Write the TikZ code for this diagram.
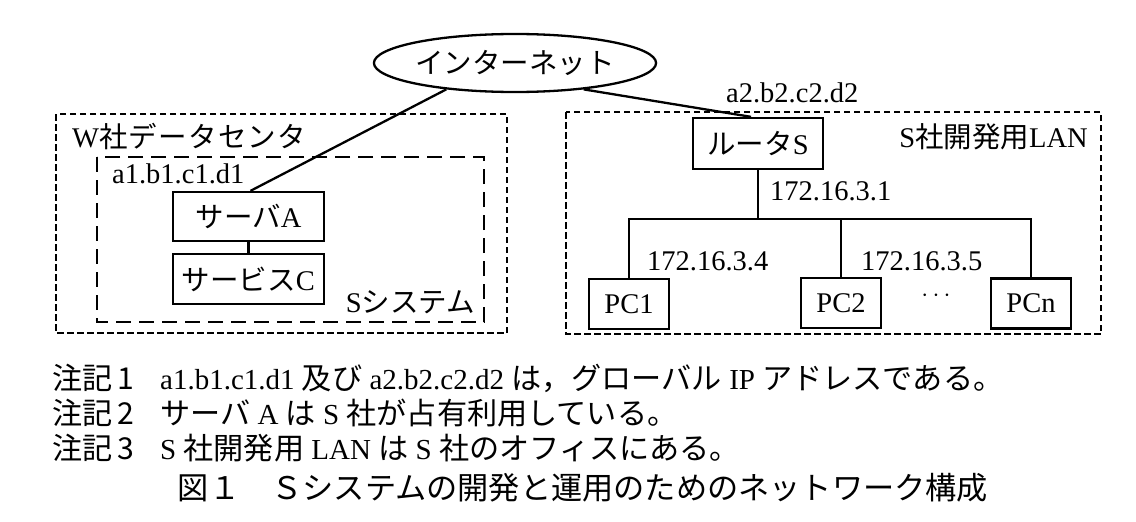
\documentclass[tikz,border=0pt]{standalone}
\usepackage{fontspec}
\setmainfont{Liberation Serif}
\newfontfamily\jp{Noto Sans CJK JP}
\newfontfamily\jpn[Scale=1.04]{Noto Sans CJK JP}
\newfontfamily\jpw[LetterSpace=4.3]{Noto Sans CJK JP}
\usetikzlibrary{shapes.geometric}

\begin{document}
\begin{tikzpicture}[x=1pt,y=-1pt,
  every node/.style={inner sep=0pt, font=\fontsize{28.5}{32}\selectfont},
  box/.style={draw, line width=2.3pt},
  wire/.style={line width=2.3pt},
  zone/.style={line width=2.3pt, dash pattern=on 6.5pt off 3.5pt},
  sysbox/.style={line width=2.3pt, dash pattern=on 15pt off 8pt},
  note/.style={font=\fontsize{29}{32}\selectfont},
  title/.style={font=\fontsize{30}{34}\selectfont\jpn}]
\useasboundingbox (0,0) rectangle (1136,522);

% Internet cloud
\node[ellipse, draw, line width=2.3pt, minimum width=276pt, minimum height=58pt]
  (inet) at (515,63) {\jp インターネット};

% W data center and the S system inside it
\draw[zone] (56,114) rectangle (507,333);
\draw[sysbox] (97,157) rectangle (484,322);
\node[anchor=base west] (wdc) at (72,147) {W{\jpw 社データセンタ}};
\node[anchor=base west] (ip1) at (112,183) {a1.b1.c1.d1};
\node[anchor=base east] (ssys) at (475,312) {S{\jp システム}};
\node[box, minimum width=151pt, minimum height=49pt] (srvA) at (248.5,216.5) {{\jp サーバ}A};
\node[box, minimum width=151pt, minimum height=50pt] (svcC) at (248.5,279) {{\jp サービス}C};
\draw[wire] (srvA) -- (svcC);
\draw[wire] (inet.201) -- ([xshift=2pt]srvA.north);

% S development LAN
\draw[zone] (566,112) rectangle (1101,334);
\node[anchor=base east] (lan) at (1088,147) {S{\jp 社開発用}LAN};
\node[anchor=base west] (ip2) at (726,102) {a2.b2.c2.d2};
\node[box, minimum width=130pt, minimum height=51pt] (rtr) at (758,143.5) {{\jp ルータ}S};
\draw[wire] (inet.339) -- ([xshift=-7pt]rtr.north);

\node[box, minimum width=80pt, minimum height=50pt] (pc1) at (629,304) {PC1};
\node[box, minimum width=80pt, minimum height=50pt] (pc2) at (841,303) {PC2};
\node[box, minimum width=80pt, minimum height=50pt] (pcn) at (1031,303.5) {PCn};
\node (dots) at (936,296) {$\cdots$};

\coordinate (bus) at (758,219);
\draw[wire] (rtr.south) -- (bus);
\draw[wire] (pc1.north) |- (bus) -| (pcn.north);
\draw[wire] (pc2.north) -- (pc2.north |- bus);

\node[anchor=base west] (ipr) at (770,200) {172.16.3.1};
\node[anchor=base west] (ipp1) at (647,270) {172.16.3.4};
\node[anchor=base west] (ipp2) at (861,270) {172.16.3.5};

% Notes
\node[note, anchor=base west] (n1h) at (52,389) {{\jpn 注記\,1}};
\node[note, anchor=base west] (n1) at (160,389)
  {a1.b1.c1.d1 {\jpn 及び} a2.b2.c2.d2 {\jpn は，グローバル} IP {\jpn アドレスである。}};
\node[note, anchor=base west] (n2h) at (52,424) {{\jpn 注記\,2}};
\node[note, anchor=base west] (n2) at (160,424)
  {{\jpn サーバ} A {\jpn は} S {\jpn 社が占有利用している。}};
\node[note, anchor=base west] (n3h) at (52,459) {{\jpn 注記\,3}};
\node[note, anchor=base west] (n3) at (160,459)
  {S {\jpn 社開発用} LAN {\jpn は} S {\jpn 社のオフィスにある。}};

% Caption
\node[title, anchor=base] (cap) at (583,499) {図１　Ｓシステムの開発と運用のためのネットワーク構成};
\end{tikzpicture}
\end{document}
